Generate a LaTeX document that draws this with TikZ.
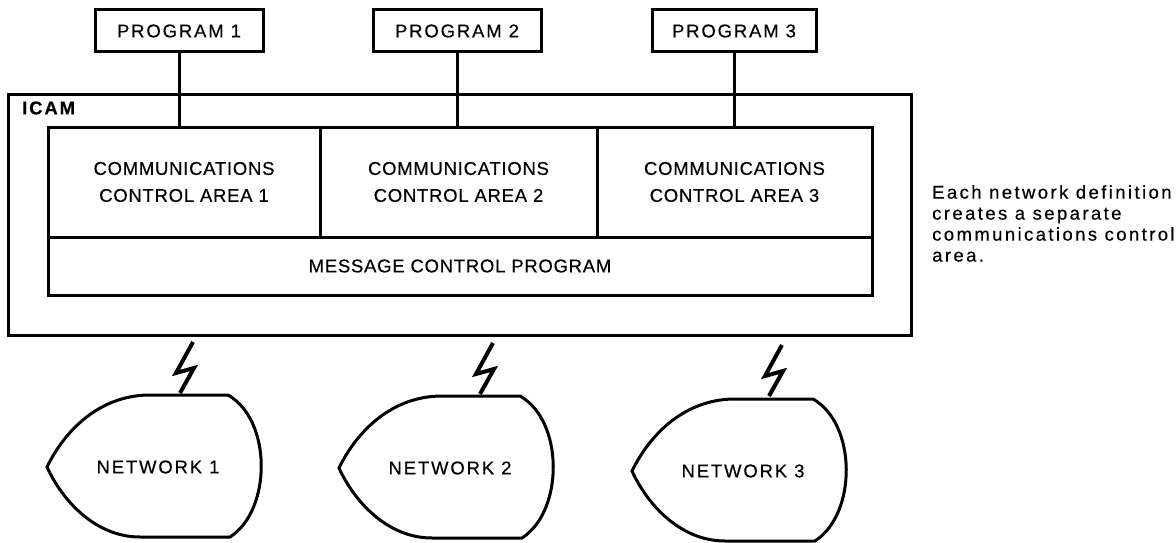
\documentclass[tikz,border=0pt]{standalone}
\usepackage{fontspec}
\setmainfont{Liberation Sans}[LetterSpace=10,FakeBold=0.4]
\newcommand\lbl{\fontsize{18.5}{27}\selectfont}
\newcommand\inner{\fontsize{18.5}{27}\selectfont\addfontfeature{LetterSpace=4}}
\newcommand\notefont{\fontsize{18.5}{21}\selectfont\addfontfeature{LetterSpace=13}}
\begin{document}
\begin{tikzpicture}[x=1pt,y=-1pt,
  box/.style={draw, line width=3pt, inner sep=0pt, font=\lbl, align=center},
  area/.style={box, font=\inner},
  wire/.style={line width=3pt},
  bolt/.style={line width=4pt, line join=miter, miter limit=20},
  netlabel/.style={font=\lbl, inner sep=0pt}]
\useasboundingbox (0,0) rectangle (1176,543);
% programs
\node[box, minimum width=168pt, minimum height=42pt] (p1) at (179,31) {PROGRAM 1};
\node[box, minimum width=168pt, minimum height=42pt] (p2) at (457,31) {PROGRAM 2};
\node[box, minimum width=164pt, minimum height=42pt] (p3) at (734,31) {PROGRAM 3};
% ICAM
\node[box, minimum width=903pt, minimum height=240pt] (icam) at (459.5,215) {};
\node[anchor=west, inner sep=0pt, font=\lbl\bfseries] (icamlbl) at (22,108) {ICAM};
% areas
\node[area, minimum width=272pt, minimum height=110pt] (c1) at (184,182) {COMMUNICATIONS\\CONTROL AREA 1};
\node[area, minimum width=277pt, minimum height=110pt] (c2) at (458.5,182) {COMMUNICATIONS\\CONTROL AREA 2};
\node[area, minimum width=275pt, minimum height=110pt] (c3) at (734.5,182) {COMMUNICATIONS\\CONTROL AREA 3};
\node[area, minimum width=824pt, minimum height=58pt] (mcp) at (460,266) {MESSAGE CONTROL PROGRAM};
% program links
\draw[wire] (p1.south) -- (p1.south |- c1.north);
\draw[wire] (p2.south) -- (p2.south |- c2.north);
\draw[wire] (p3.south) -- (p3.south |- c3.north);
% networks
\node[netlabel] (n1) at (158,467) {NETWORK 1};
\node[netlabel] (n2) at (450,468) {NETWORK 2};
\node[netlabel] (n3) at (743,471) {NETWORK 3};
\foreach \n in {n1,n2,n3}{
  \begin{scope}[shift={(\n.center)}]
    \draw[wire, line join=miter] (-111,0) .. controls (-93,-37) and (-58,-72) .. (-8,-72)
      -- (70,-72) .. controls (114,-47) and (114,43) .. (72,70)
      -- (-18,70) .. controls (-63,70) and (-96,33) .. cycle;
  \end{scope}
}
% bolts
\coordinate (b1) at (193,342);
\coordinate (b2) at (493,343);
\coordinate (b3) at (782,345);
\foreach \b in {b1,b2,b3}{
  \draw[bolt] (\b) -- ++(-17,31) -- ++(18,-5) -- ++(-14,25);
}
% note
\node[anchor=north west, inner sep=0pt, align=left, font=\notefont] (note) at (932,185)
  {Each network definition\\creates a separate\\communications control\\area.};
\end{tikzpicture}
\end{document}
